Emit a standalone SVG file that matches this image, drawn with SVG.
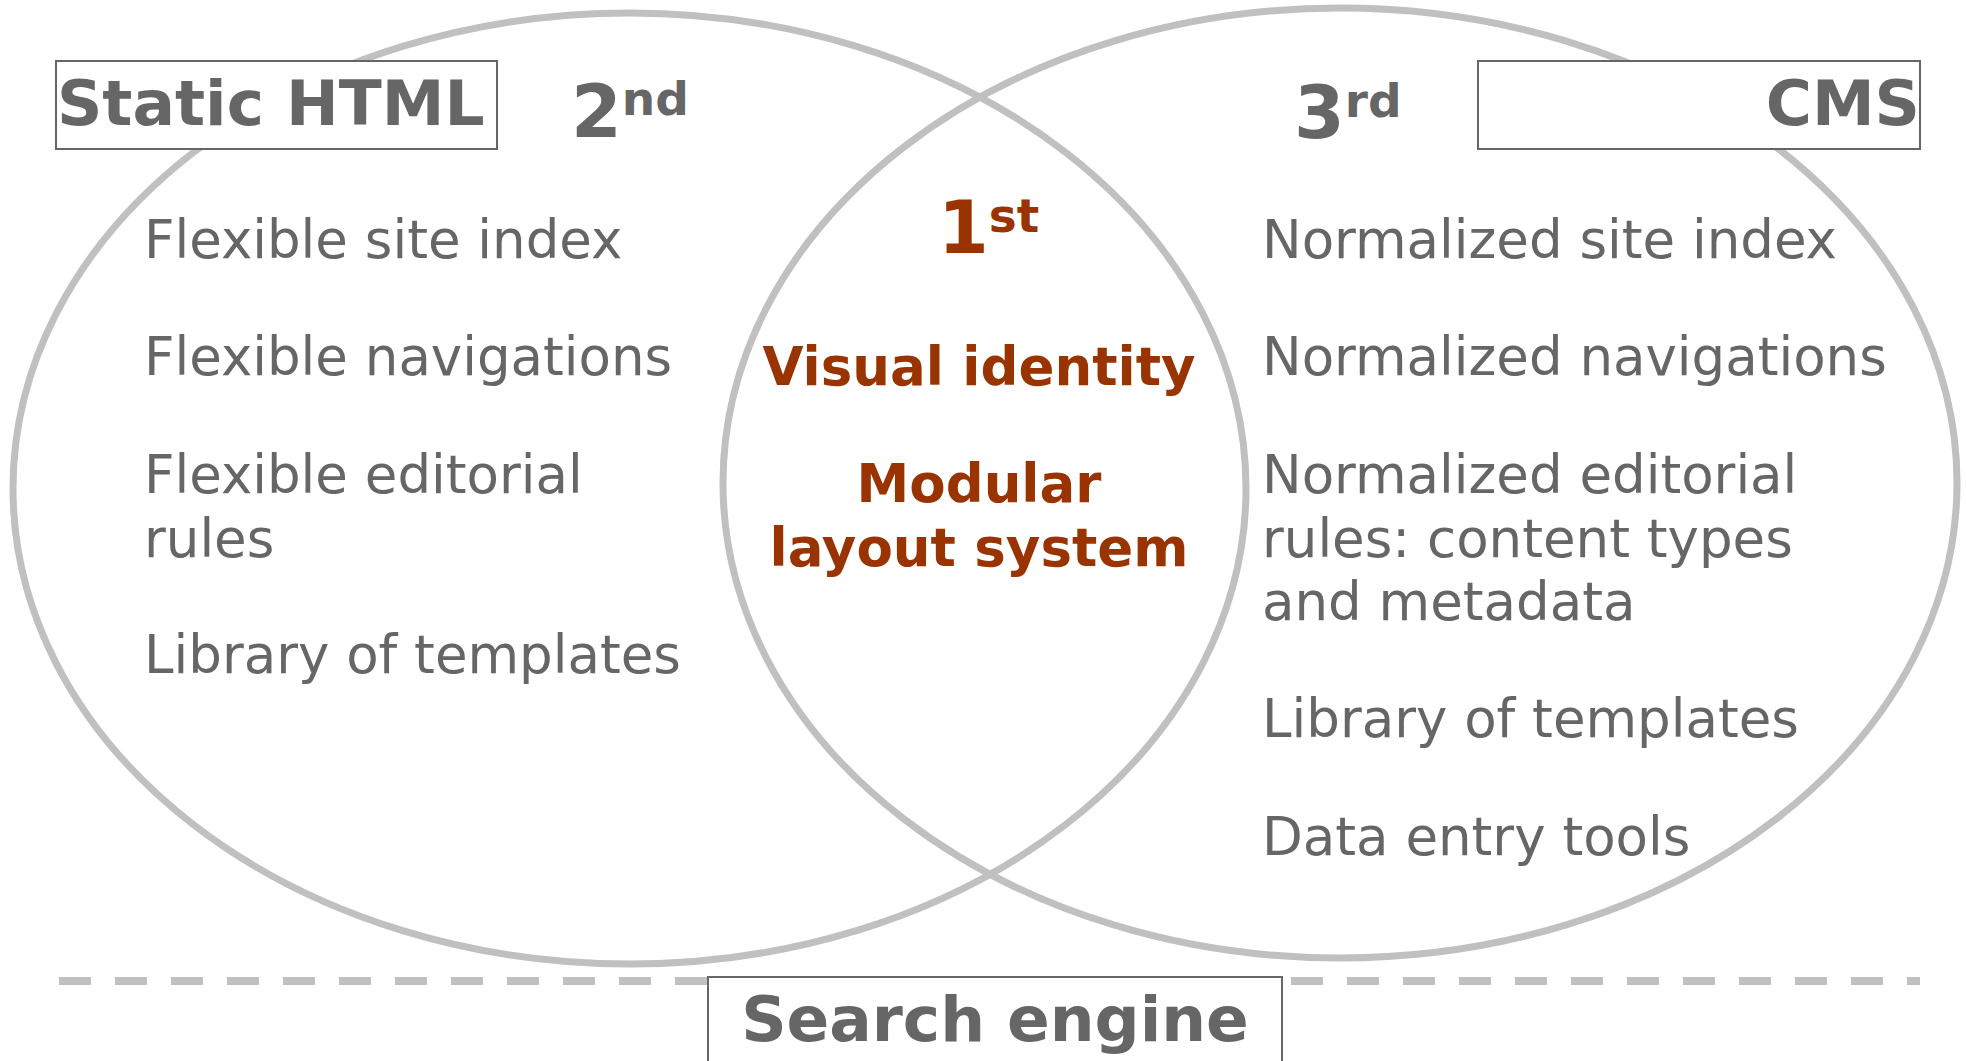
<svg xmlns="http://www.w3.org/2000/svg" width="1966" height="1061" viewBox="0 0 1966 1061">
<style>
.ring{fill:none;stroke:#c0c0c0;stroke-width:7}
.box{fill:#fff;stroke:#666;stroke-width:2}
.t{font-family:"DejaVu Sans",Verdana,sans-serif;fill:#666;font-size:53px}
.h{font-family:"DejaVu Sans",Verdana,sans-serif;fill:#666;font-weight:bold;font-size:63px}
.c{font-family:"DejaVu Sans",Verdana,sans-serif;fill:#993300;font-weight:bold;font-size:53px;text-anchor:middle}
.ord{font-family:"DejaVu Sans",Verdana,sans-serif;font-weight:bold;font-size:73px}
.sup{font-size:47px}
</style>
<rect width="1966" height="1061" fill="#fff"/>
<g id="connectors">
<line x1="59" y1="981" x2="1920" y2="981" stroke="#c0c0c0" stroke-width="8" stroke-dasharray="32 24"/>
</g>
<g id="static-html-set">
<ellipse class="ring" cx="629.5" cy="488.5" rx="616.5" ry="475.5"/>
</g>
<g id="cms-set">
<ellipse class="ring" cx="1340" cy="483" rx="617" ry="475"/>
</g>
<g id="static-html-label">
<rect class="box" x="56" y="61" width="441" height="88"/>
<text class="h" x="57" y="125">Static HTML</text>
</g>
<g id="cms-label">
<rect class="box" x="1478" y="61" width="442" height="88"/>
<text class="h" x="1920" y="125" text-anchor="end">CMS</text>
</g>
<g id="rank-2">
<text class="ord" x="571" y="137" fill="#666">2<tspan class="sup" dy="-22">nd</tspan></text>
</g>
<g id="rank-3">
<text class="ord" x="1294" y="138" fill="#666">3<tspan class="sup" dy="-21">rd</tspan></text>
</g>
<g id="rank-1">
<text class="ord" x="938" y="253" fill="#993300">1<tspan class="sup" dy="-21">st</tspan></text>
</g>
<g id="static-html-items">
<text class="t" x="144" y="258">Flexible site index</text>
<text class="t" x="144" y="375">Flexible navigations</text>
<text class="t" x="144" y="493">Flexible editorial</text>
<text class="t" x="144" y="557">rules</text>
<text class="t" x="144" y="673">Library of templates</text>
</g>
<g id="shared-items">
<text class="c" x="979" y="385">Visual identity</text>
<text class="c" x="979" y="502">Modular</text>
<text class="c" x="979" y="566">layout system</text>
</g>
<g id="cms-items">
<text class="t" x="1262" y="258">Normalized site index</text>
<text class="t" x="1262" y="375">Normalized navigations</text>
<text class="t" x="1262" y="493">Normalized editorial</text>
<text class="t" x="1262" y="557">rules: content types</text>
<text class="t" x="1262" y="620">and metadata</text>
<text class="t" x="1262" y="737">Library of templates</text>
<text class="t" x="1262" y="855">Data entry tools</text>
</g>
<g id="search-engine">
<rect class="box" x="708" y="977" width="574" height="100"/>
<text class="h" x="995" y="1041" text-anchor="middle">Search engine</text>
</g>
</svg>
